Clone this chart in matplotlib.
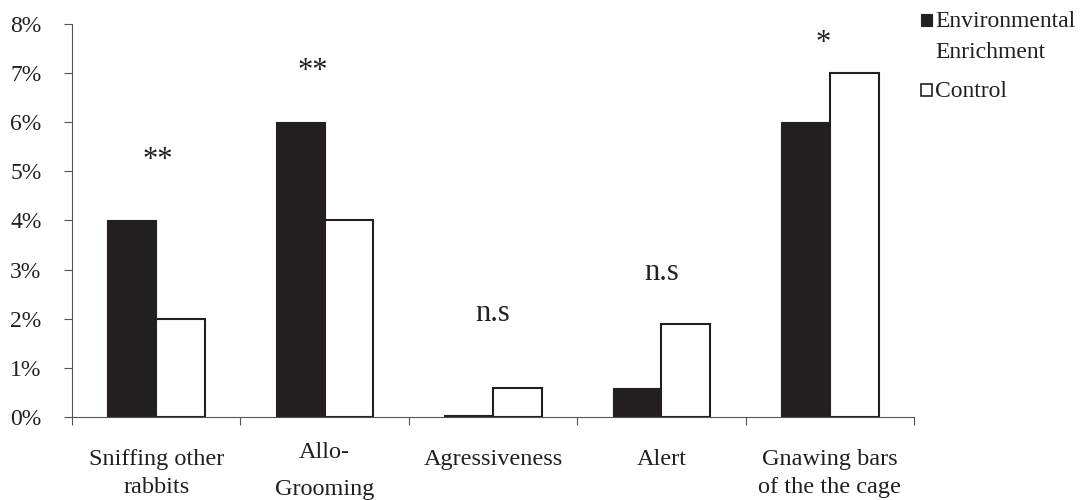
import numpy as np
import matplotlib
matplotlib.use("Agg")
import matplotlib.pyplot as plt
from matplotlib.patches import Rectangle

# data (percent of observations)
categories = ["Sniffing other\nrabbits", "Allo-\nGrooming", "Agressiveness", "Alert",
              "Gnawing bars\nof the the cage"]
enrichment = [4.0, 6.0, 0.05, 0.6, 6.0]
control = [2.0, 4.0, 0.6, 1.9, 7.0]
signif = ["**", "**", "n.s", "n.s", "*"]
signif_x = [0.01, -0.07, 0.0, 0.0, -0.04]
signif_y = [5.07, 6.88, 1.95, 2.79, 7.45]

dark = "#231f20"
plt.rcParams["font.family"] = ["Liberation Serif", "DejaVu Serif"]
plt.rcParams["text.color"] = dark

fig = plt.figure(figsize=(10.86, 5.0), dpi=100)
# plot area: x from 72px to 914px, y from 417px up to 24px
ax = fig.add_axes([72 / 1086, 0.166, (914 - 72) / 1086, 0.786])

x = np.arange(len(categories))
w = 0.29
ax.bar(x - w / 2, enrichment, w, color=dark, edgecolor=dark, linewidth=0.8)
ax.bar(x + w / 2, control, w, color="white", edgecolor=dark, linewidth=1.5)

ax.set_xlim(-0.5, len(categories) - 0.5)
ax.set_ylim(0, 8)
ax.set_yticks(np.arange(0, 9, 1))
ax.set_yticklabels(["%d%%" % v for v in range(9)], fontsize=17, color=dark)
ax.set_xticks(np.arange(-0.5, len(categories), 1.0))
ax.set_xticklabels([])
ax.tick_params(axis="both", direction="out", length=6, width=0.8, color="#555555")
ax.tick_params(axis="y", pad=16)

for s in ["top", "right"]:
    ax.spines[s].set_visible(False)
for s in ["left", "bottom"]:
    ax.spines[s].set_color("#555555")
    ax.spines[s].set_linewidth(0.8)

# category labels, one line at a time (baseline offsets in points below the axis)
for i, lab in enumerate(categories):
    lines = lab.split("\n")
    if i == 1:
        offs = [29.5, 56.2]
    else:
        offs = [34.6, 54.7]
    for ln, off in zip(lines, offs):
        ax.annotate(ln, xy=(i, 0), xycoords=ax.get_xaxis_transform(),
                    xytext=(0, -off), textcoords="offset points",
                    ha="center", va="baseline", fontsize=17.5, color=dark)

# significance marks
for i, s in enumerate(signif):
    ax.text(i + signif_x[i], signif_y[i], s, ha="center", va="baseline",
            fontsize=22, color=dark)

# legend drawn by hand
sq = 11 / 1086
sqh = 12 / 500
fig.patches.append(Rectangle((921 / 1086, 1 - 26 / 500), sq, sqh, transform=fig.transFigure,
                             facecolor=dark, edgecolor=dark, linewidth=0.8))
fig.patches.append(Rectangle((921 / 1086, 1 - 96 / 500), sq, sqh, transform=fig.transFigure,
                             facecolor="white", edgecolor=dark, linewidth=1.2))
fig.text(935 / 1086, 1 - 27 / 500, "Environmental", fontsize=17, va="baseline", ha="left")
fig.text(935 / 1086, 1 - 58 / 500, "Enrichment", fontsize=17, va="baseline", ha="left")
fig.text(935 / 1086, 1 - 97 / 500, "Control", fontsize=17, va="baseline", ha="left")

fig.savefig("out.png", dpi=100)
plt.close(fig)
